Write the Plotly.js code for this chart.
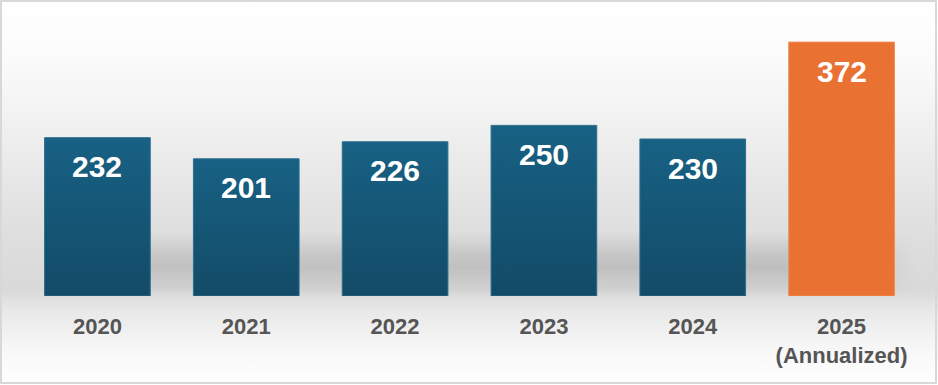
<!DOCTYPE html>
<html>
<head>
<meta charset="utf-8">
<script src="https://cdn.plot.ly/plotly-3.0.1.min.js"></script>
<style>
  html, body { margin:0; padding:0; background:#fff; }
  #wrap { position:relative; width:938px; height:385px; overflow:hidden;
    background: linear-gradient(to bottom, #ffffff 0px, #fbfbfb 60px, #ececec 150px, #dfdfdf 230px, #d9d9d9 290px, #e8e8e8 310px, #f6f6f6 345px, #ffffff 385px); }
  #band { position:absolute; left:150px; width:766px; top:232px; height:64px;
    background: linear-gradient(to bottom, rgba(0,0,0,0) 0%, rgba(0,0,0,0.10) 35%, rgba(0,0,0,0.13) 55%, rgba(0,0,0,0.05) 85%, rgba(0,0,0,0) 100%);
    -webkit-mask-image: linear-gradient(to right, rgba(0,0,0,0.9) 0%, #000 90%, rgba(0,0,0,0) 100%);
    mask-image: linear-gradient(to right, rgba(0,0,0,0.9) 0%, #000 90%, rgba(0,0,0,0) 100%); }
  #chart { position:absolute; left:0; top:0; width:938px; height:385px; }
  #frame { position:absolute; left:0; top:0; width:937px; height:384px; box-sizing:border-box;
    border:2px solid #d8d8d8; pointer-events:none; }
</style>
</head>
<body>
<div id="wrap">
  <div id="band"></div>
  <div id="chart"></div>
  <div id="frame"></div>
</div>
<script>
const categories = ["2020", "2021", "2022", "2023", "2024", "2025"];
const tickLabels = ["2020", "2021", "2022", "2023", "2024", "2025<br>(Annualized)"];
const values = [232, 201, 226, 250, 230, 372];
const barColors = ["#165877", "#165877", "#165877", "#165877", "#165877", "#e97132"];
const barLineColors = ["#2c6e8c", "#2c6e8c", "#2c6e8c", "#2c6e8c", "#2c6e8c", "#ee8a55"];

const FONT = "Liberation Sans, Arial, sans-serif";

const trace = {
  type: "bar",
  x: categories,
  y: values,
  marker: { color: barColors, line: { width: 1, color: barLineColors } },
  width: 0.71,
  hoverinfo: "skip"
};

const annotations = values.map((v, i) => ({
  x: i, y: v, xref: "x", yref: "y",
  text: "<b>" + v + "</b>",
  showarrow: false,
  yanchor: "middle",
  yshift: -29,
  font: { family: FONT, size: 30, color: "#ffffff" }
}));

const layout = {
  width: 938, height: 385,
  margin: { l: 23, r: 22, t: 23, b: 89 },
  paper_bgcolor: "rgba(0,0,0,0)",
  plot_bgcolor: "rgba(0,0,0,0)",
  showlegend: false,
  xaxis: {
    type: "category",
    range: [-0.5, 5.5],
    tickvals: categories,
    ticktext: tickLabels,
    showgrid: false, zeroline: false, showline: false,
    ticks: "",
    ticklabelstandoff: 15,
    tickfont: { family: FONT, size: 22, color: "#555555", weight: "bold" }
  },
  yaxis: {
    range: [0, 400],
    showticklabels: false,
    showgrid: false, zeroline: false, showline: false,
    ticks: ""
  },
  annotations: annotations
};

Plotly.newPlot("chart", [trace], layout, { staticPlot: true, displayModeBar: false }).then(gd => {
  const svg = gd.querySelector("svg.main-svg");
  const NS = "http://www.w3.org/2000/svg";
  let defs = svg.querySelector("defs");
  if (!defs) { defs = document.createElementNS(NS, "defs"); svg.insertBefore(defs, svg.firstChild); }
  const grad = document.createElementNS(NS, "linearGradient");
  grad.setAttribute("id", "blueGrad");
  grad.setAttribute("x1", "0"); grad.setAttribute("y1", "0");
  grad.setAttribute("x2", "0"); grad.setAttribute("y2", "1");
  [["0%", "#186184"], ["100%", "#124b67"]].forEach(([o, c]) => {
    const s = document.createElementNS(NS, "stop");
    s.setAttribute("offset", o); s.setAttribute("stop-color", c);
    grad.appendChild(s);
  });
  defs.appendChild(grad);
  gd.querySelectorAll(".trace.bars .point path").forEach((p, i) => {
    if (barColors[i] === "#165877") p.style.fill = "url(#blueGrad)";
  });
});
</script>
</body>
</html>
